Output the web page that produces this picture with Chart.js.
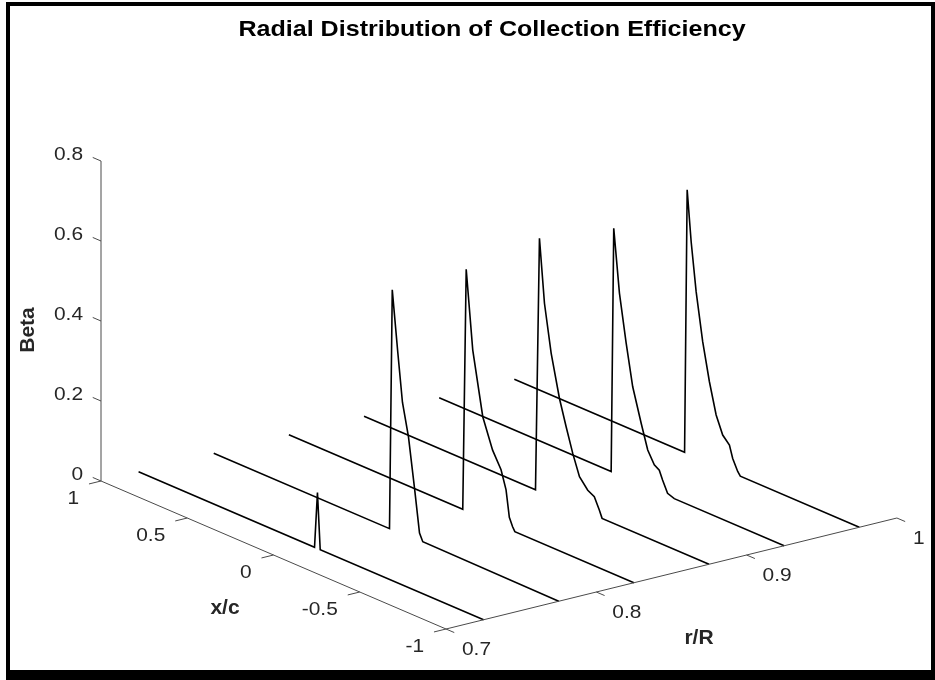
<!DOCTYPE html>
<html>
<head>
<meta charset="utf-8">
<script src="https://cdn.jsdelivr.net/npm/chart.js@4.4.0/dist/chart.umd.min.js"></script>
<style>
  html, body { margin: 0; padding: 0; background: #fff; }
  #wrap { width: 935px; height: 680px; }
</style>
</head>
<body>
<div id="wrap"><canvas id="chart" width="935" height="680"></canvas></div>
<script>
// r/R station of each slice
const rStations = [0.725, 0.775, 0.825, 0.875, 0.925, 0.975];

const xc1 = [1, -0.02, -0.037, -0.053, -1];
const beta1 = [0, 0, 0.14, 0, 0];

const xc2 = [1, -0.019, -0.035, -0.067, -0.094, -0.129, -0.164, -0.193, -0.212, -1];
const beta2 = [0, 0, 0.60, 0.45, 0.33, 0.25, 0.128, 0.021, 0.003, 0];

const xc3 = [1, -0.008, -0.028, -0.066, -0.124, -0.181, -0.23, -0.259, -0.278, -0.297, -0.31, -1];
const beta3 = [0, 0, 0.604, 0.409, 0.253, 0.18, 0.14, 0.095, 0.03, 0.01, 0, 0];

const xc4 = [1, 0.006, -0.017, -0.046, -0.085, -0.133, -0.172, -0.21, -0.249, -0.297, -0.335, -0.364, -0.38, -1];
const beta4 = [0, 0, 0.633, 0.476, 0.358, 0.254, 0.19, 0.131, 0.08, 0.055, 0.046, 0.018, 0, 0];

const xc5 = [1, 0.003, -0.012, -0.045, -0.084, -0.122, -0.171, -0.209, -0.247, -0.276, -0.295, -0.324, -0.363, -1];
const beta5 = [0, 0, 0.611, 0.455, 0.337, 0.235, 0.153, 0.093, 0.063, 0.055, 0.034, 0.006, 0, 0];

const xc6 = [1, 0.013, -0.002, -0.025, -0.054, -0.092, -0.131, -0.17, -0.208, -0.247, -0.266, -0.295, -0.31, -1];
const beta6 = [0, 0, 0.659, 0.534, 0.414, 0.296, 0.203, 0.127, 0.084, 0.066, 0.036, 0.009, 0, 0];

// axis ticks
const zTicks = [0, 0.2, 0.4, 0.6, 0.8];
const xcTicks = [1, 0.5, 0, -0.5, -1];
const rTicks = [0.7, 0.8, 0.9, 1];

const sliceXc = [xc1, xc2, xc3, xc4, xc5, xc6];
const sliceBeta = [beta1, beta2, beta3, beta4, beta5, beta6];

// fixed 3d view (orthographic), screen units
const view = { ox: 101, oy: 481, xcDx: 172.5, xcDy: 74, rDx: 1503, rDy: -370, zDy: -400 };
function project(r, xc, beta) {
  const u = 1 - xc, v = r - 0.7;
  return { x: view.ox + u * view.xcDx + v * view.rDx, y: view.oy + u * view.xcDy + v * view.rDy + beta * view.zDy };
}

const axisColor = '#4a4a4a';
function seg(points, color, width) {
  return { data: points, showLine: true, borderColor: color, borderWidth: width, pointRadius: 0, fill: false, tension: 0 };
}

const datasets = [];
// box axes
datasets.push(seg([project(0.7, 1, 0), project(0.7, 1, 0.8)], axisColor, 1));
datasets.push(seg([project(0.7, 1, 0), project(0.7, -1, 0)], axisColor, 1));
datasets.push(seg([project(0.7, -1, 0), project(1, -1, 0)], axisColor, 1));
zTicks.forEach(z => datasets.push(seg([project(0.7, 1, z), project(0.7, 1.048, z)], axisColor, 1)));
xcTicks.forEach(x => datasets.push(seg([project(0.7, x, 0), project(0.692, x, 0)], axisColor, 1)));
rTicks.forEach(r => datasets.push(seg([project(r, -1, 0), project(r, -1.048, 0)], axisColor, 1)));

// slices
rStations.forEach((r, i) => {
  const pts = sliceXc[i].map((x, j) => project(r, x, sliceBeta[i][j]));
  datasets.push(seg(pts, '#000', 1.6));
});

function label(ctx, text, x, y, align, stretch) {
  ctx.save();
  ctx.translate(x, y);
  ctx.scale(stretch, 1);
  ctx.textAlign = align;
  ctx.fillText(text, 0, 0);
  ctx.restore();
}

const textPlugin = {
  id: 'texts',
  afterDraw(chart) {
    const ctx = chart.ctx, sx = chart.scales.x, sy = chart.scales.y;
    const px = p => ({ x: sx.getPixelForValue(p.x), y: sy.getPixelForValue(p.y) });
    ctx.save();
    ctx.fillStyle = '#262626';
    ctx.font = '19px "Liberation Sans", Arial, sans-serif';
    ctx.textBaseline = 'middle';
    zTicks.forEach(z => { const p = px(project(0.7, 1, z)); label(ctx, String(z), p.x - 18, p.y - 6, 'right', 1.1); });
    xcTicks.forEach(x => { const p = px(project(0.7, x, 0)); label(ctx, String(x), p.x - 22, p.y + 18, 'right', 1.1); });
    rTicks.forEach(r => { const p = px(project(r, -1, 0)); label(ctx, String(r), p.x + 16, p.y + 21, 'left', 1.1); });

    ctx.font = 'bold 21px "Liberation Sans", Arial, sans-serif';
    ctx.textAlign = 'center';
    ctx.fillText('x/c', 225, 608);
    ctx.fillText('r/R', 699, 638);
    ctx.save();
    ctx.translate(28, 330);
    ctx.rotate(-Math.PI / 2);
    ctx.fillText('Beta', 0, 0);
    ctx.restore();

    ctx.fillStyle = '#000';
    ctx.font = 'bold 22px "Liberation Sans", Arial, sans-serif';
    label(ctx, 'Radial Distribution of Collection Efficiency', 492, 30, 'center', 1.14);

    // figure frame
    ctx.fillRect(6, 2, 929, 4);
    ctx.fillRect(6, 2, 4, 678);
    ctx.fillRect(931, 2, 4, 678);
    ctx.fillRect(6, 670, 929, 10);
    ctx.restore();
  }
};

new Chart(document.getElementById('chart'), {
  type: 'scatter',
  data: { datasets },
  options: {
    responsive: false,
    animation: false,
    events: [],
    layout: { padding: 0 },
    plugins: { legend: { display: false }, tooltip: { enabled: false }, title: { display: false } },
    scales: {
      x: { type: 'linear', min: 0, max: 935, display: false },
      y: { type: 'linear', min: 0, max: 680, reverse: true, display: false }
    }
  },
  plugins: [textPlugin]
});
</script>
</body>
</html>
